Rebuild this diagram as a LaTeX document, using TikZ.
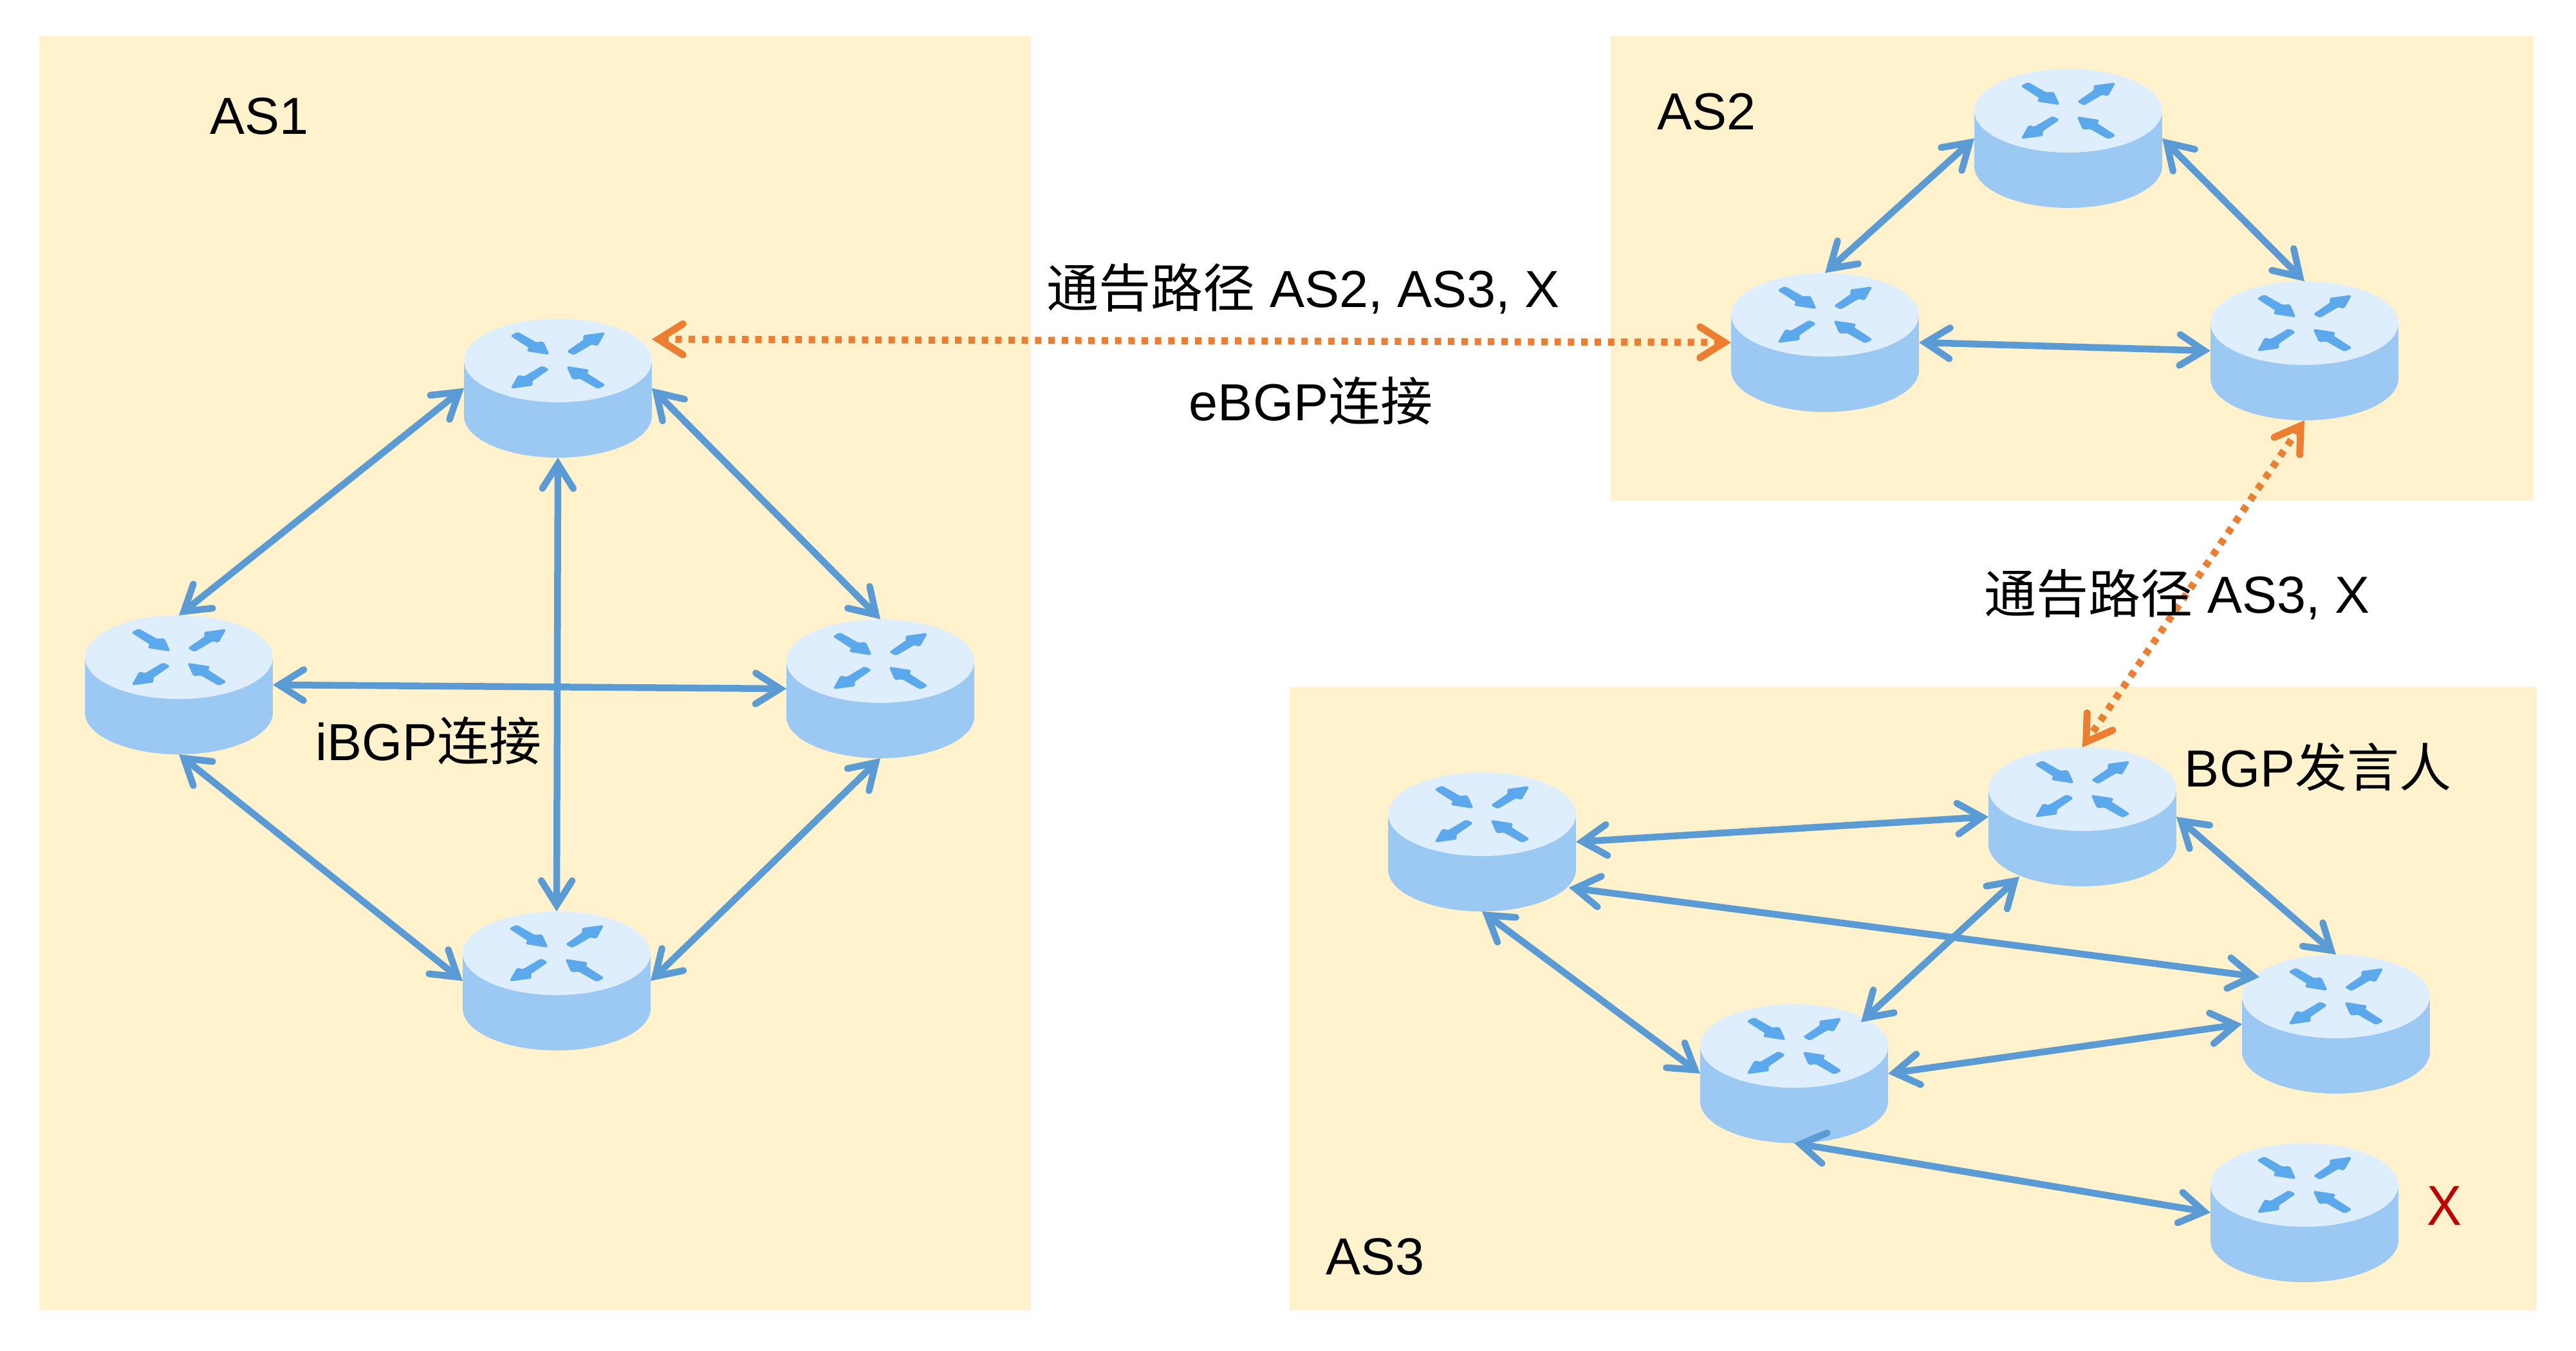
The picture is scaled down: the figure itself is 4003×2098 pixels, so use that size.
\documentclass[tikz,border=0pt]{standalone}
\usepackage{fontspec}
\setmainfont{Liberation Sans}
\newfontfamily\cjk{Noto Sans CJK SC}
\usetikzlibrary{arrows.meta,calc}
\definecolor{asbg}{HTML}{FFF2CC}
\definecolor{rtop}{HTML}{DFEEFD}
\definecolor{rbody}{HTML}{9BC9F3}
\definecolor{rmark}{HTML}{5CA8EC}
\definecolor{linkblue}{HTML}{5B9BD5}
\definecolor{linkorange}{HTML}{ED7D31}
\definecolor{markred}{HTML}{C00000}
\tikzset{
  asbox/.style={fill=asbg,draw=none},
  label text/.style={inner sep=0pt,font=\fontsize{16.2}{19}\selectfont,text=black},
  routerbox/.style={inner sep=0pt,outer sep=0pt,minimum width=58.4pt,minimum height=43.2pt,draw=none},
  ibgp/.style={draw=linkblue,line width=2.1pt,line cap=butt,
    {Straight Barb[length=7.6pt,width=9.6pt,line cap=round]}-{Straight Barb[length=7.6pt,width=9.6pt,line cap=round]}},
  ebgp/.style={draw=linkorange,line width=2.2pt,dash pattern=on 2pt off 2.14pt,
    {Straight Barb[length=7.6pt,width=9.6pt,line cap=round,sep=0pt]}-{Straight Barb[length=7.6pt,width=9.6pt,line cap=round]}},
  routermarkshape/.style={fill=rmark,draw=rmark,line width=0.4pt,line join=round,rounded corners=0.4pt},
}
\newcommand{\routermark}{%
  \path[routermarkshape] (-72.3,-38.3) -- (-62.3,-43.3) -- (-34,-27.3) -- (-23.3,-28.7) -- (-14.7,-10) -- (-47.3,-15) -- (-44,-20) -- cycle;
  \path[routermarkshape] (15.3,-14) -- (24.3,-9.3) -- (52.7,-26) -- (61,-23.3) -- (72,-42.7) -- (40,-38.3) -- (41,-31.7) -- cycle;
}
\newcommand{\router}[3]{%
  \begin{scope}[shift={(#2,#3)}]
    \fill[rbody] (-146,0) rectangle (146,86);
    \fill[rbody] (0,86) ellipse [x radius=29.2pt,y radius=13pt];
    \fill[rtop] (0,0) ellipse [x radius=29.2pt,y radius=13pt];
    \routermark
    \begin{scope}[xscale=-1,yscale=-1]\routermark\end{scope}
  \end{scope}
  \node[routerbox] (#1) at (#2,#3+43) {};
}
\begin{document}
\begin{tikzpicture}[x=0.2pt,y=-0.2pt]
\useasboundingbox (0,0) rectangle (4003,2098);
\fill[white] (0,0) rectangle (4003,2098);
\fill[asbox] (61,56) rectangle (1602,2036);
\fill[asbox] (2503,56) rectangle (3937,778);
\fill[asbox] (2004,1067) rectangle (3942,2036);

\router{aa}{867}{560}
\router{ab}{278}{1021}
\router{ac}{1368}{1027}
\router{ad}{865}{1481}
\router{ba}{3214}{172}
\router{bb}{2836}{489}
\router{bc}{3581}{502}
\router{ca}{2303}{1265}
\router{cb}{3236}{1226}
\router{cc}{3630}{1548}
\router{cd}{2788}{1625}
\router{ce}{3581}{1841}

\draw[ibgp] (aa.west) -- (ab.north);
\draw[ibgp] (aa.east) -- (ac.north);
\draw[ibgp] (aa.south) -- (ad.north);
\draw[ibgp] (ab.east) -- (ac.west);
\draw[ibgp] (ab.south) -- (ad.west);
\draw[ibgp] (ac.south) -- (ad.east);

\draw[ibgp] (ba.west) -- (bb.north);
\draw[ibgp] (ba.east) -- (bc.north);
\draw[ibgp] (bb.east) -- (bc.west);

\draw[ibgp] (ca.east) -- (cb.west);
\draw[ibgp] ($(ca.center)+(135,71)$) -- ($(cc.center)+(-119,-73)$);
\draw[ibgp] (ca.south) -- (cd.west);
\draw[ibgp] (cb.east) -- (cc.north);
\draw[ibgp] ($(cb.center)+(-98,93)$) -- ($(cd.center)+(104,-80)$);
\draw[ibgp] (cd.east) -- (cc.west);
\draw[ibgp] (cd.south) -- (ce.west);

\draw[ebgp] ($(aa.east)+(0,-76)$) -- (bb.west);
\draw[ebgp] (bc.south) -- (cb.north);

\node[label text] (as1) at (403,181) {AS1};
\node[label text] (as2) at (2652,174) {AS2};
\node[label text] (as3) at (2137,1953) {AS3};
\node[label text] (adv1) at (2025,449) {{\cjk 通告路径} AS2, AS3, X};
\node[label text] (ebgplab) at (2037,623) {eBGP{\cjk 连接}};
\node[label text] (ibgplab) at (666,1151) {iBGP{\cjk 连接}};
\node[label text] (adv2) at (3383,924) {{\cjk 通告路径} AS3, X};
\node[label text] (speaker) at (3602,1192) {BGP{\cjk 发言人}};
\node[label text,text=markred,yscale=1.08] (xmark) at (3798,1873) {X};
\end{tikzpicture}
\end{document}
